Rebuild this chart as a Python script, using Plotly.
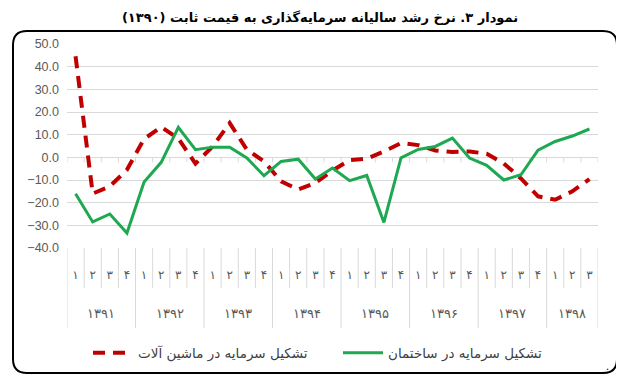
import plotly.graph_objects as go

# ---------------- data ----------------
years = ["۱۳۹۱", "۱۳۹۲", "۱۳۹۳", "۱۳۹۴", "۱۳۹۵", "۱۳۹۶", "۱۳۹۷", "۱۳۹۸"]
quarters_per_year = [4, 4, 4, 4, 4, 4, 4, 3]
quarter_names = ["۱", "۲", "۳", "۴"]

building = [-16.1, -28.5, -25.0, -33.4, -10.9, -2.2, 13.2, 3.4, 4.5, 4.5, -0.3,
            -8.1, -1.8, -0.8, -9.6, -4.7, -10.3, -8.0, -28.7, -0.2, 3.5, 4.8,
            8.5, -0.3, -3.5, -10.0, -7.7, 3.2, 7.0, 9.4, 12.5]
machinery = [44.6, -16.0, -12.8, -5.5, 8.1, 13.4, 8.3, -2.8, 4.8, 15.1, 3.4,
             -1.8, -10.6, -14.2, -11.3, -5.8, -1.2, -0.6, 2.6, 6.3, 5.4, 3.0,
             2.4, 2.6, 1.6, -2.7, -9.3, -17.2, -18.7, -15.0, -9.6]

name_building = "تشکیل سرمایه در ساختمان"
name_machinery = "تشکیل سرمایه در ماشین آلات"
title_text = "نمودار ۳. نرخ رشد سالیانه سرمایه‌گذاری به قیمت ثابت (۱۳۹۰)"
y_ticks = [50, 40, 30, 20, 10, 0, -10, -20, -30, -40]

# ---------------- derived ----------------
quarter_labels = []
for n in quarters_per_year:
    quarter_labels += quarter_names[:n]
x_idx = list(range(len(quarter_labels)))

# the page has an 8px body margin; build the figure 8px smaller and shift
OFF = 8
W, H = 624 - OFF, 380 - OFF
# plot area in window pixels: x 67..598, y 44..248
ML = 67 - OFF
MT = 44 - OFF
MR = W - (598 - OFF)
MB = H - (248 - OFF)
PW, PH = W - ML - MR, H - MT - MB

FONT = "DejaVu Sans, Noto Sans, sans-serif"
GRID = "#d9d9d9"

fig = go.Figure()
fig.add_trace(go.Scatter(
    x=x_idx, y=machinery, mode="lines", name=name_machinery,
    line=dict(color="#C00000", width=4, dash="12px,8px")))
fig.add_trace(go.Scatter(
    x=x_idx, y=building, mode="lines", name=name_building,
    line=dict(color="#1EA852", width=3)))

shapes = []
# small ticks on the zero line
for k in range(len(x_idx) + 1):
    shapes.append(dict(type="line", xref="x", yref="y", ysizemode="pixel",
                       yanchor=0, x0=k - 0.5, x1=k - 0.5, y0=0, y1=-5,
                       line=dict(color=GRID, width=1), layer="below"))
# category separators below the plot
boundaries_year = [-0.5]
acc = -0.5
for n in quarters_per_year:
    acc += n
    boundaries_year.append(acc)
for k in range(len(x_idx) + 1):
    b = k - 0.5
    depth = -80 if b in boundaries_year else -40
    shapes.append(dict(type="line", xref="x", yref="paper", ysizemode="pixel",
                       yanchor=0, x0=b, x1=b, y0=0, y1=depth,
                       line=dict(color=GRID, width=1)))


# helpers: window pixel -> paper coordinates
def px(xp):
    return (xp - OFF - ML) / PW


def py(yp):
    return (H - MB - (yp - OFF)) / PH


L_, R_, T_, B_, r = 13, 617, 31, 373, 14
path = (f"M {px(L_+r)} {py(T_)} L {px(R_-r)} {py(T_)} "
        f"Q {px(R_)} {py(T_)} {px(R_)} {py(T_+r)} "
        f"L {px(R_)} {py(B_-r)} Q {px(R_)} {py(B_)} {px(R_-r)} {py(B_)} "
        f"L {px(L_+r)} {py(B_)} Q {px(L_)} {py(B_)} {px(L_)} {py(B_-r)} "
        f"L {px(L_)} {py(T_+r)} Q {px(L_)} {py(T_)} {px(L_+r)} {py(T_)} Z")
shapes.append(dict(type="path", xref="paper", yref="paper", path=path,
                   line=dict(color="black", width=2)))

annotations = []
start = 0
for yr, n in zip(years, quarters_per_year):
    center = start + (n - 1) / 2
    annotations.append(dict(x=center, y=0, xref="x", yref="paper", yshift=-65,
                            text=yr, showarrow=False, yanchor="middle",
                            font=dict(size=13, color="#595959", family=FONT)))
    start += n
annotations.append(dict(x=px(611), y=py(374), xref="paper", yref="paper",
                        text=".", showarrow=False,
                        font=dict(size=10, color="black", family=FONT)))

fig.update_layout(
    width=W, height=H,
    margin=dict(l=ML, r=MR, t=MT, b=MB),
    paper_bgcolor="white", plot_bgcolor="white",
    title=dict(text="<b>" + title_text + "</b>", x=(320 - OFF) / W,
               xanchor="center", y=1 - (17 - OFF) / H, yanchor="middle",
               xref="container", yref="container",
               font=dict(size=13, color="black", family=FONT)),
    xaxis=dict(range=[-0.5, len(x_idx) - 0.5], tickmode="array", tickvals=x_idx,
               ticktext=quarter_labels, showgrid=False, zeroline=False,
               showline=False, ticks="", ticklabelstandoff=18,
               tickfont=dict(size=12, color="#595959", family=FONT)),
    yaxis=dict(range=[-40, 50], tickmode="array", tickvals=y_ticks,
               tickformat=".1f", showgrid=True, gridcolor=GRID, gridwidth=1,
               zeroline=True, zerolinecolor=GRID, zerolinewidth=1,
               showline=False, ticks="", ticklabelstandoff=7,
               tickfont=dict(size=12.5, color="#595959",
                             family="Liberation Sans, Arial, sans-serif")),
    legend=dict(orientation="h", x=px(88), xanchor="left", y=py(353),
                yanchor="middle", itemwidth=40, entrywidth=195,
                entrywidthmode="pixels",
                font=dict(size=13.5, color="#404040", family=FONT),
                bgcolor="rgba(0,0,0,0)"),
    shapes=shapes, annotations=annotations,
)

fig.write_html("out.html")
